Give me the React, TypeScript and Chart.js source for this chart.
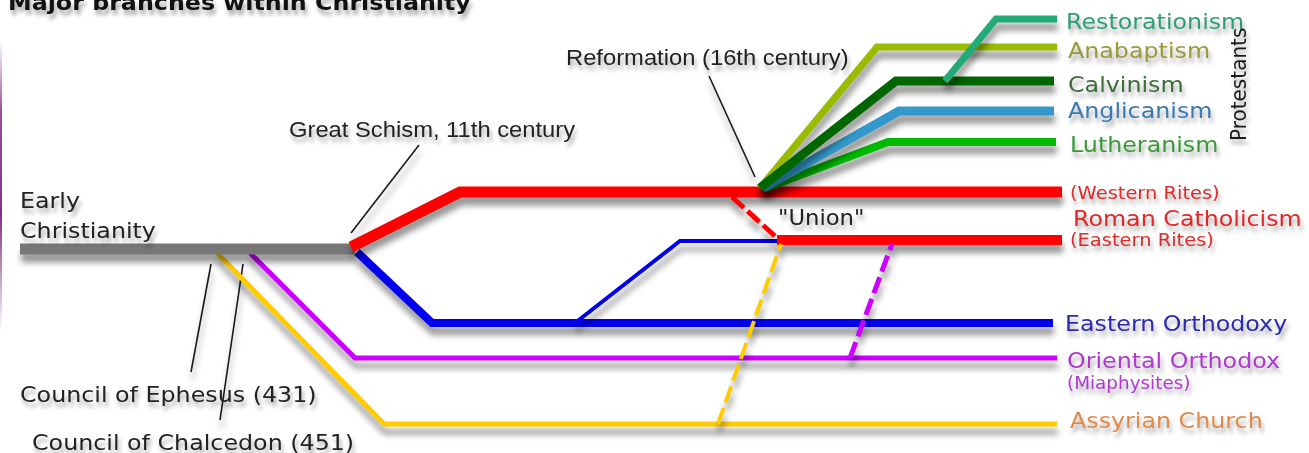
import React, { useEffect, useRef } from "react";
import { Chart, registerables } from "chart.js";

Chart.register(...registerables);

const W = 1309;
const H = 453;

// ---- Branch paths (timeline position, lane position) ----
const earlyX = [20, 355];
const earlyY = [249, 249];
const westernX = [351, 460, 1062];
const westernY = [247, 192, 192];
const easternRitesX = [777, 1062];
const easternRitesY = [240, 240];
const unionX = [732, 776];
const unionY = [197, 237];
const orthodoxX = [357, 432, 1053];
const orthodoxY = [252, 323, 323];
const orthodoxBranchX = [575, 680, 778];
const orthodoxBranchY = [323, 241, 241];
const orientalX = [250, 355, 1057];
const orientalY = [253, 358, 358];
const orientalUnionX = [850, 892];
const orientalUnionY = [358, 244];
const assyrianX = [217, 384, 1057];
const assyrianY = [253, 424, 424];
const assyrianUnionX = [718, 781];
const assyrianUnionY = [424, 244];
const anabaptismX = [760, 877, 1057];
const anabaptismY = [188, 47, 47];
const calvinismX = [760, 896, 1054];
const calvinismY = [188, 81, 81];
const anglicanismX = [763, 899, 1054];
const anglicanismY = [188, 111, 111];
const lutheranismX = [766, 888, 1056];
const lutheranismY = [188, 142, 142];
const restorationismX = [945, 996, 1057];
const restorationismY = [81, 19, 19];

// ---- Pointer lines ----
const schismPointerX = [419, 351];
const schismPointerY = [145, 233];
const reformationPointerX = [709, 755];
const reformationPointerY = [76, 177];
const ephesusPointerX = [211, 191];
const ephesusPointerY = [264, 372];
const chalcedonPointerX = [243, 220];
const chalcedonPointerY = [264, 420];

// ---- Texts ----
const titleText = "Major branches within Christianity";
const noteTexts = ["Early", "Christianity", "Council of Ephesus (431)", "Council of Chalcedon (451)", "\"Union\""];
const eventTexts = ["Great Schism, 11th century", "Reformation (16th century)"];
const branchTexts = [
  "Restorationism",
  "Anabaptism",
  "Calvinism",
  "Anglicanism",
  "Lutheranism",
  "(Western Rites)",
  "Roman Catholicism",
  "(Eastern Rites)",
  "Eastern Orthodoxy",
  "Oriental Orthodox",
  "(Miaphysites)",
  "Assyrian Church",
];
const groupText = "Protestants";

const pts = (xs: number[], ys: number[]) => xs.map((x, i) => ({ x, y: ys[i] }));

// bottom-to-top drawing order
const paths = [
  { xs: schismPointerX, ys: schismPointerY, color: "#1a1a1a", width: 1.6 },
  { xs: reformationPointerX, ys: reformationPointerY, color: "#1a1a1a", width: 1.6 },
  { xs: ephesusPointerX, ys: ephesusPointerY, color: "#1a1a1a", width: 1.6 },
  { xs: chalcedonPointerX, ys: chalcedonPointerY, color: "#1a1a1a", width: 1.6 },
  { xs: assyrianX, ys: assyrianY, color: "#ffcc00", width: 5 },
  { xs: orientalX, ys: orientalY, color: "#cc00ff", width: 5 },
  { xs: orthodoxX, ys: orthodoxY, color: "#0000ee", width: 8 },
  { xs: orthodoxBranchX, ys: orthodoxBranchY, color: "#0000ee", width: 4 },
  { xs: earlyX, ys: earlyY, color: "#777777", width: 11 },
  { xs: westernX, ys: westernY, color: "#ff0000", width: 11 },
  { xs: easternRitesX, ys: easternRitesY, color: "#ff0000", width: 10 },
  { xs: unionX, ys: unionY, color: "#ff0000", width: 5, dash: [16, 5] },
  { xs: assyrianUnionX, ys: assyrianUnionY, color: "#ffcc00", width: 4, dash: [17, 6] },
  { xs: orientalUnionX, ys: orientalUnionY, color: "#cc00ff", width: 5, dash: [17, 6] },
  { xs: anabaptismX, ys: anabaptismY, color: "#99bb00", width: 7 },
  { xs: lutheranismX, ys: lutheranismY, color: "#00bb00", width: 8 },
  { xs: anglicanismX, ys: anglicanismY, color: "#3399cc", width: 9 },
  { xs: calvinismX, ys: calvinismY, color: "#006600", width: 9 },
  { xs: restorationismX, ys: restorationismY, color: "#22aa77", width: 7 },
];

const DJ = "'DejaVu Sans', sans-serif";
const LS = "'Liberation Sans', Arial, sans-serif";
const SX = 1.08;

type Lbl = { text: string; x: number; y: number; font: string; color: string };

const labels: Lbl[] = [
  { text: titleText, x: 8, y: 10, font: `bold 22px ${DJ}`, color: "#111" },
  { text: noteTexts[0], x: 20, y: 208, font: `22px ${DJ}`, color: "#222" },
  { text: noteTexts[1], x: 20, y: 238, font: `22px ${DJ}`, color: "#222" },
  { text: noteTexts[2], x: 20, y: 402, font: `22px ${DJ}`, color: "#222" },
  { text: noteTexts[3], x: 32, y: 450, font: `22px ${DJ}`, color: "#222" },
  { text: noteTexts[4], x: 778, y: 225, font: `21px ${DJ}`, color: "#222" },
  { text: eventTexts[0], x: 289, y: 137, font: `22px ${LS}`, color: "#222" },
  { text: eventTexts[1], x: 566, y: 65, font: `22px ${LS}`, color: "#222" },
  { text: branchTexts[0], x: 1066, y: 29, font: `22px ${DJ}`, color: "#2f9e78" },
  { text: branchTexts[1], x: 1068, y: 58, font: `22px ${DJ}`, color: "#9a9a3a" },
  { text: branchTexts[2], x: 1068, y: 92, font: `22px ${DJ}`, color: "#3b6e3b" },
  { text: branchTexts[3], x: 1068, y: 118, font: `22px ${DJ}`, color: "#3a7ab4" },
  { text: branchTexts[4], x: 1070, y: 152, font: `22px ${DJ}`, color: "#3a9a3a" },
  { text: branchTexts[5], x: 1070, y: 199, font: `18px ${DJ}`, color: "#dd2a2a" },
  { text: branchTexts[6], x: 1073, y: 226, font: `22px ${DJ}`, color: "#e02828" },
  { text: branchTexts[7], x: 1070, y: 246, font: `18px ${DJ}`, color: "#dd2a2a" },
  { text: branchTexts[8], x: 1065, y: 331, font: `22px ${DJ}`, color: "#2b2bb0" },
  { text: branchTexts[9], x: 1067, y: 368, font: `22px ${DJ}`, color: "#b03ad0" },
  { text: branchTexts[10], x: 1067, y: 389, font: `17px ${DJ}`, color: "#b03ad0" },
  { text: branchTexts[11], x: 1070, y: 428, font: `22px ${DJ}`, color: "#e08a4a" },
];

const shadowPlugin = {
  id: "lineShadows",
  beforeDatasetDraw(chart: any) {
    const c = chart.ctx;
    c.save();
    c.shadowColor = "rgba(0,0,0,0.42)";
    c.shadowBlur = 6;
    c.shadowOffsetX = 1;
    c.shadowOffsetY = 8;
  },
  afterDatasetDraw(chart: any) {
    chart.ctx.restore();
  },
};

const textPlugin = {
  id: "diagramText",
  afterDatasetsDraw(chart: any) {
    const c = chart.ctx;
    const xs = chart.scales.x;
    const ys = chart.scales.y;
    c.save();
    c.shadowColor = "rgba(0,0,0,0.35)";
    c.shadowBlur = 4;
    c.shadowOffsetX = 2;
    c.shadowOffsetY = 5;
    c.textAlign = "left";
    c.textBaseline = "alphabetic";
    for (const l of labels) {
      c.save();
      c.translate(xs.getPixelForValue(l.x), ys.getPixelForValue(l.y));
      c.scale(SX, 1);
      c.font = l.font;
      c.fillStyle = l.color;
      c.fillText(l.text, 0, 0);
      c.restore();
    }
    // vertical group label
    c.save();
    c.translate(xs.getPixelForValue(1246), ys.getPixelForValue(141));
    c.scale(SX, 1);
    c.rotate(-Math.PI / 2);
    c.font = `20px ${DJ}`;
    c.fillStyle = "#1a1a1a";
    c.fillText(groupText, 0, 0);
    c.restore();
    c.restore();
  },
};

export default function App() {
  const ref = useRef<HTMLCanvasElement | null>(null);
  useEffect(() => {
    if (!ref.current) return;
    const n = paths.length;
    const chart = new Chart(ref.current, {
      type: "scatter",
      data: {
        datasets: paths.map((p, i) => ({
          data: pts(p.xs, p.ys),
          showLine: true,
          borderColor: p.color,
          backgroundColor: p.color,
          borderWidth: p.width,
          borderDash: (p as any).dash || [],
          borderCapStyle: "butt",
          borderJoinStyle: "miter",
          pointRadius: 0,
          pointHoverRadius: 0,
          fill: false,
          tension: 0,
          order: n - i,
          clip: false,
        })) as any,
      },
      options: {
        animation: false,
        responsive: false,
        maintainAspectRatio: false,
        devicePixelRatio: 1,
        layout: { padding: 0 },
        events: [],
        plugins: { legend: { display: false }, tooltip: { enabled: false }, title: { display: false } },
        scales: {
          x: { type: "linear", min: 0, max: W, display: false },
          y: { type: "linear", min: 0, max: H, reverse: true, display: false },
        },
      },
      plugins: [shadowPlugin, textPlugin],
    });
    return () => chart.destroy();
  }, []);

  return (
    <div style={{ position: "fixed", left: 0, top: 0, width: W, height: H, background: "#fff", overflow: "hidden" }}>
      <canvas ref={ref} width={W} height={H} style={{ display: "block", width: W, height: H }} />
      <div
        style={{
          position: "absolute",
          left: 0,
          top: 40,
          width: 2,
          height: 292,
          background:
            "linear-gradient(to bottom, rgba(150,80,150,0), rgba(140,60,140,0.9) 25%, rgba(130,50,130,1) 60%, rgba(150,80,150,0))",
        }}
      />
    </div>
  );
}
